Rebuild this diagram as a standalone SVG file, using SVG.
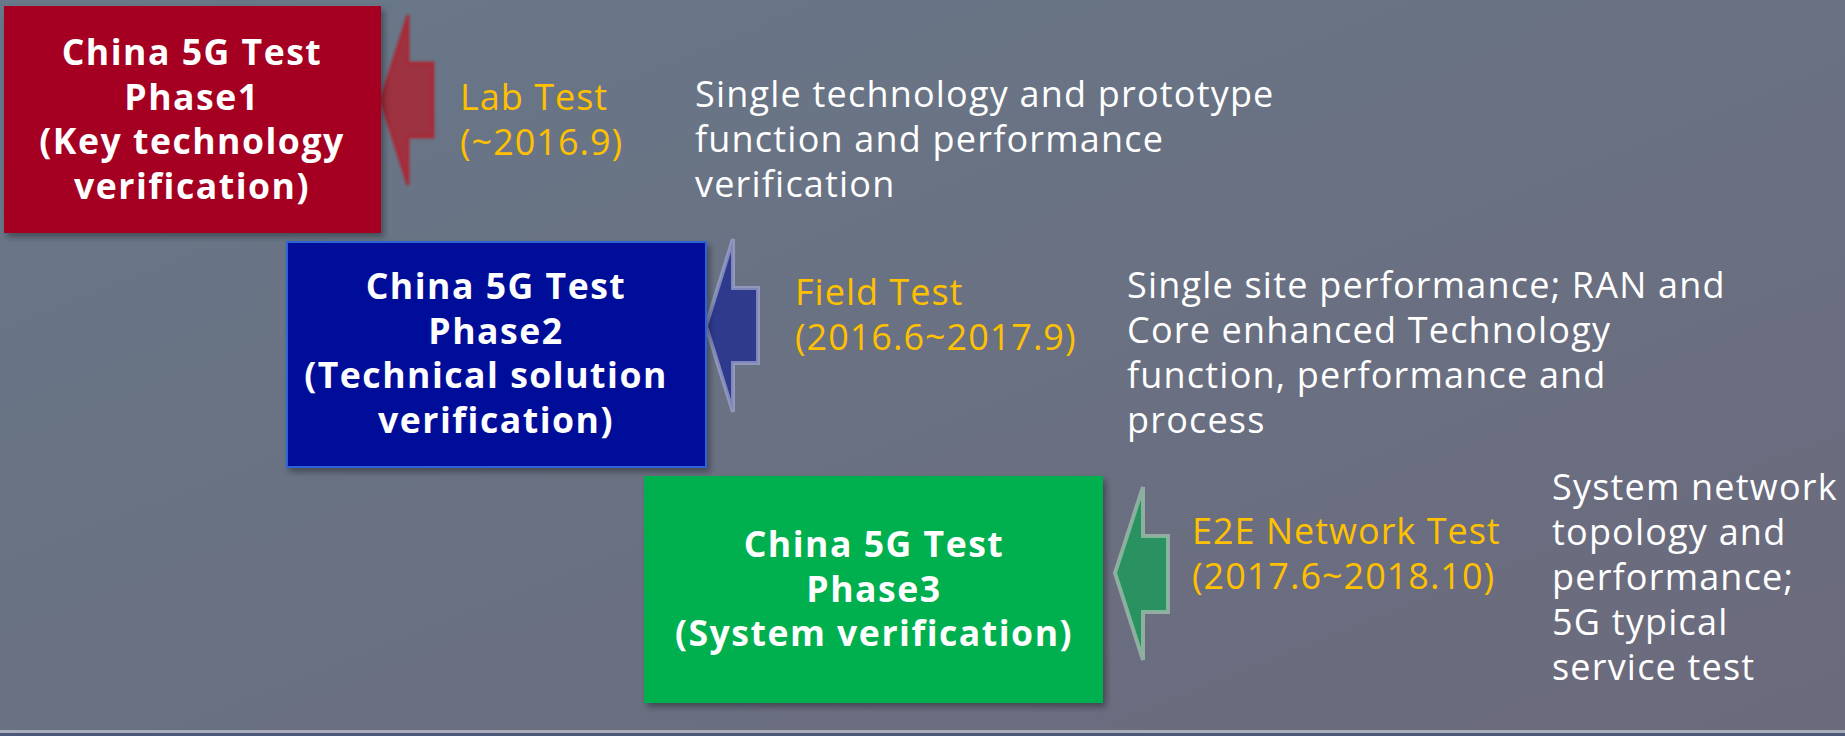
<svg xmlns="http://www.w3.org/2000/svg" width="1845" height="736" viewBox="0 0 1845 736">
<defs>
<linearGradient id="bg" x1="0" y1="0" x2="1" y2="1">
<stop offset="0" stop-color="#687889"/>
<stop offset="1" stop-color="#6b6a7c"/>
</linearGradient>
<filter id="sh" x="-5%" y="-5%" width="115%" height="115%">
<feDropShadow dx="3" dy="4" stdDeviation="3" flood-color="#000" flood-opacity="0.35"/>
</filter>
<filter id="glow" x="-20%" y="-20%" width="140%" height="140%">
<feGaussianBlur stdDeviation="0.8"/>
</filter>
</defs>
<style>
.bx{font-family:"Open Sans","Noto Sans","DejaVu Sans",sans-serif;font-weight:bold;font-size:35.6px;letter-spacing:1.5px;fill:#fff;text-anchor:middle}
.lb{font-family:"Open Sans","Noto Sans","DejaVu Sans",sans-serif;font-size:36px;letter-spacing:1px;fill:#ffc000}
.ds{font-family:"Open Sans","Noto Sans","DejaVu Sans",sans-serif;font-size:36px;letter-spacing:1.2px;fill:#fff}
.ar{stroke-width:4;stroke-linejoin:miter}
</style>
<rect width="1845" height="736" fill="url(#bg)"/>
<rect x="0" y="730" width="1845" height="3" fill="#a9adb9"/>
<rect x="0" y="733" width="1845" height="3" fill="#4b5877"/>

<g id="connectors">
<polygon class="ar" points="381,100 408,15 408,63 433,63 433,137 408,137 408,185" fill="#9d3040" stroke="#b3202c" stroke-opacity="0.6" filter="url(#glow)"/>
<polygon class="ar" points="706,326 733,239 733,288 758,288 758,363 733,363 733,412" fill="#2e3a8c" stroke="#a3a8d2" stroke-opacity="0.7"/>
<polygon class="ar" points="1115,573 1143,487 1143,536 1168,536 1168,612 1143,612 1143,660" fill="#2a9160" stroke="#a8c4b4" stroke-opacity="0.7"/>
</g>

<g id="phase1">
<rect x="4" y="6" width="377" height="227" fill="#a50021" filter="url(#sh)"/>
<text class="bx" x="192" y="65">China 5G Test</text>
<text class="bx" x="192" y="109.5">Phase1</text>
<text class="bx" x="192" y="154">(Key technology</text>
<text class="bx" x="192" y="198.5">verification)</text>
</g>

<g id="phase2">
<rect x="287" y="242" width="419" height="225" fill="#001199" stroke="#2f62d6" stroke-width="2" filter="url(#sh)"/>
<text class="bx" x="496" y="299">China 5G Test</text>
<text class="bx" x="496" y="343.5">Phase2</text>
<text class="bx" x="486" y="388">(Technical solution</text>
<text class="bx" x="496" y="432.5">verification)</text>
</g>

<g id="phase3">
<rect x="644" y="476" width="459" height="227" fill="#00b050" filter="url(#sh)"/>
<text class="bx" x="874" y="557">China 5G Test</text>
<text class="bx" x="874" y="601.5">Phase3</text>
<text class="bx" x="874" y="646">(System verification)</text>
</g>

<g id="label1">
<text class="lb" x="460" y="110">Lab Test</text>
<text class="lb" x="460" y="155">(~2016.9)</text>
</g>
<g id="label2">
<text class="lb" x="795" y="305">Field Test</text>
<text class="lb" x="795" y="350">(2016.6~2017.9)</text>
</g>
<g id="label3">
<text class="lb" x="1192" y="544">E2E Network Test</text>
<text class="lb" x="1192" y="589">(2017.6~2018.10)</text>
</g>

<g id="desc1">
<text class="ds" x="695" y="107">Single technology and prototype</text>
<text class="ds" x="695" y="152">function and performance</text>
<text class="ds" x="695" y="197">verification</text>
</g>
<g id="desc2">
<text class="ds" x="1127" y="298">Single site performance; RAN and</text>
<text class="ds" x="1127" y="343">Core enhanced Technology</text>
<text class="ds" x="1127" y="388">function, performance and</text>
<text class="ds" x="1127" y="433">process</text>
</g>
<g id="desc3">
<text class="ds" x="1552" y="500">System network</text>
<text class="ds" x="1552" y="545">topology and</text>
<text class="ds" x="1552" y="590">performance;</text>
<text class="ds" x="1552" y="635">5G typical</text>
<text class="ds" x="1552" y="680">service test</text>
</g>
</svg>
